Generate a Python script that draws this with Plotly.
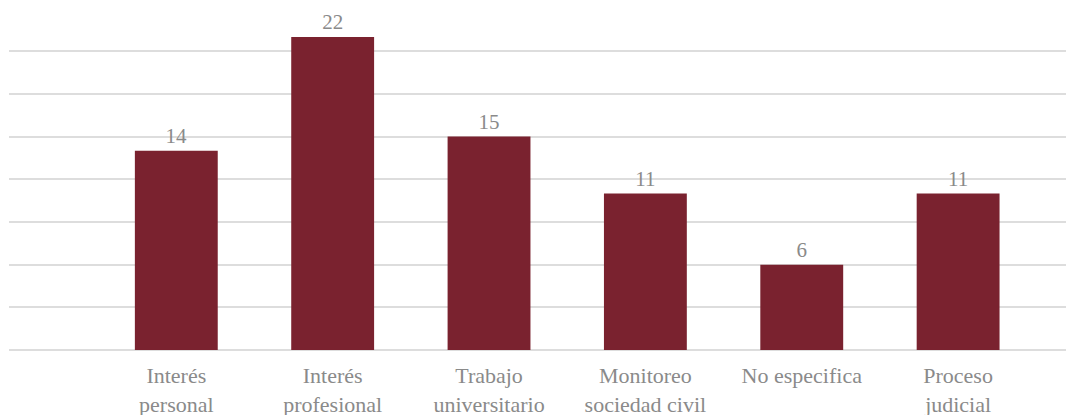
import plotly.graph_objects as go

categories = ["Interés<br>personal", "Interés<br>profesional", "Trabajo<br>universitario",
              "Monitoreo<br>sociedad civil", "No especifica", "Proceso<br>judicial"]
values = [14, 22, 15, 11, 6, 11]
grid_values = [0, 3, 6, 9, 12, 15, 18, 21]

FONT = "Liberation Serif, DejaVu Serif, serif"
GREY = "#8a8a8a"

fig = go.Figure(go.Bar(
    x=categories, y=values,
    marker=dict(color="#7a222f", line=dict(width=0)),
    width=0.53,
    text=[str(v) for v in values], textposition="outside",
    textfont=dict(family=FONT, size=21, color=GREY),
    cliponaxis=False,
))

fig.update_layout(
    width=1066, height=415,
    margin=dict(l=9, r=0, t=0, b=65, autoexpand=False),
    paper_bgcolor="white", plot_bgcolor="white",
    showlegend=False,
    font=dict(family=FONT, size=22, color=GREY),
    xaxis=dict(type="category", range=[-1.07, 5.69], showgrid=False, automargin=False,
               showline=False, ticks="", ticklabelstandoff=10,
               tickfont=dict(family=FONT, size=22, color=GREY)),
    yaxis=dict(range=[0, 24.6], tickvals=grid_values, showticklabels=False, showgrid=True,
               automargin=False,
               gridcolor="#dddddd", gridwidth=2, zeroline=True,
               zerolinecolor="#dddddd", zerolinewidth=2, showline=False),
)

fig.write_html("out.html", config={"displayModeBar": False},
               post_script="document.body.style.margin='0';document.body.style.overflow='hidden';")
